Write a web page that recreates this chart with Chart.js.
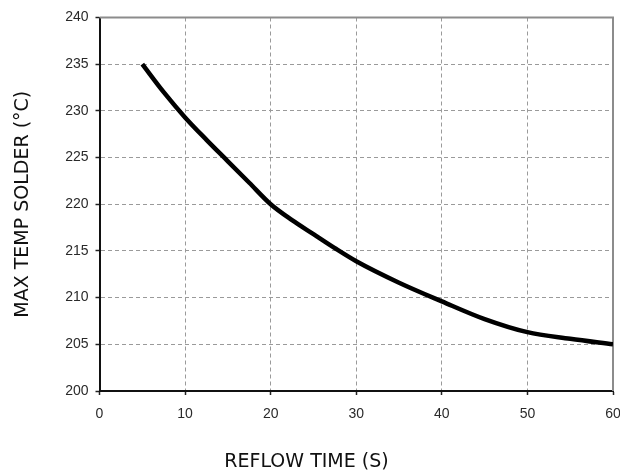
<!DOCTYPE html>
<html>
<head>
<meta charset="utf-8">
<script src="https://cdn.jsdelivr.net/npm/chart.js@4.4.1/dist/chart.umd.min.js"></script>
<style>
  html, body { margin: 0; padding: 0; background: #fff; }
  #wrap { width: 620px; height: 472px; position: relative; }
</style>
</head>
<body>
<div id="wrap"><canvas id="chart"></canvas></div>
<script>
// reflow time (s) vs max solder temperature (°C)
const reflowTime = [5, 7.5, 10, 12.5, 15, 17.5, 20, 22.5, 25, 27.5, 30, 35, 40, 45, 50, 55, 60];
const maxTemp = [235, 232.0, 229.3, 226.9, 224.6, 222.3, 220.0, 218.3, 216.8, 215.3, 213.9, 211.6, 209.6, 207.7, 206.3, 205.6, 205.0];
const xTicks = [0, 10, 20, 30, 40, 50, 60];
const yTicks = [200, 205, 210, 215, 220, 225, 230, 235, 240];

const tickFont = { family: '"Liberation Sans", Arial, sans-serif', size: 14 };
const titleFont = { family: '"DejaVu Sans", sans-serif', size: 19, weight: 'normal', lineHeight: 1 };

// gray solid frame on the top and right sides of the plot
const frame = {
  id: 'frame',
  beforeDatasetsDraw(chart) {
    const { ctx, chartArea: a } = chart;
    ctx.save();
    ctx.strokeStyle = '#8c8c8c';
    ctx.lineWidth = 2;
    ctx.beginPath();
    ctx.moveTo(a.left, a.top);
    ctx.lineTo(a.right, a.top);
    ctx.lineTo(a.right, a.bottom);
    ctx.stroke();
    ctx.restore();
  }
};

new Chart(document.getElementById('chart'), {
  type: 'line',
  data: {
    datasets: [{
      data: reflowTime.map((x, i) => ({ x, y: maxTemp[i] })),
      borderColor: '#000',
      borderWidth: 4.5,
      pointRadius: 0,
      cubicInterpolationMode: 'monotone',
      fill: false,
    }]
  },
  options: {
    responsive: true,
    maintainAspectRatio: false,
    animation: false,
    layout: { padding: { left: 0, right: 7, top: 17.5, bottom: 0 } },
    plugins: {
      legend: { display: false },
      tooltip: { enabled: false },
      title: {
        display: true,
        position: 'bottom',
        text: 'REFLOW TIME (S)',
        color: '#111',
        font: titleFont,
        padding: { top: 32, bottom: 0 },
      }
    },
    scales: {
      x: {
        type: 'linear',
        min: 0,
        max: 60,
        afterBuildTicks: s => { s.ticks = xTicks.map(v => ({ value: v })); },
        afterFit: s => { s.height = 30; s.paddingLeft = 0; s.paddingRight = 0; },
        ticks: { color: '#2a2a2a', font: tickFont, padding: 11, maxRotation: 0 },
        grid: { color: '#9a9a9a', lineWidth: 1, tickLength: 4, tickColor: '#222', tickBorderDash: [], tickWidth: 1.5 },
        border: { color: '#111', width: 2, dash: [4, 3] },
      },
      y: {
        min: 200,
        max: 240,
        afterBuildTicks: s => { s.ticks = yTicks.map(v => ({ value: v })); },
        afterFit: s => { s.width = 99.5; },
        ticks: { color: '#2a2a2a', font: tickFont, padding: 7 },
        grid: { color: '#9a9a9a', lineWidth: 1, tickLength: 4, tickColor: '#222', tickBorderDash: [], tickWidth: 1.5 },
        border: { color: '#111', width: 2, dash: [4, 3] },
        title: {
          display: true,
          text: 'MAX TEMP SOLDER (°C)',
          color: '#111',
          font: titleFont,
          padding: { top: 14, bottom: 0 },
        }
      }
    }
  },
  plugins: [frame]
});
</script>
</body>
</html>
